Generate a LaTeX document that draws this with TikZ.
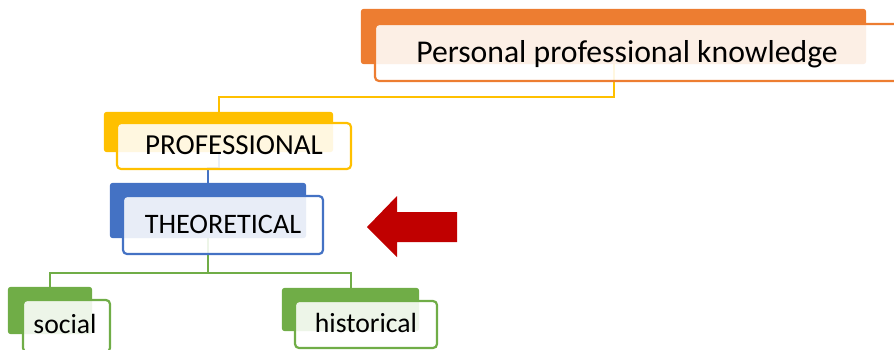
\documentclass[tikz,border=0pt]{standalone}
\usepackage{fontspec}
\setmainfont{Carlito}
\begin{document}
\begin{tikzpicture}[x=1pt,y=-1pt,
  backbox/.style={draw=none,inner sep=0pt},
  plate/.style={fill=#1,rounded corners=3pt},
  frontbox/.style={draw=#1,line width=2.2pt,fill=white,fill opacity=0.88,rounded corners=4pt,inner sep=0pt},
  link/.style={draw=#1,line width=2pt},
  lbl/.style={anchor=base,inner sep=0pt,text=black},
]
\definecolor{ppkorange}{HTML}{ED7D31}
\definecolor{profyellow}{HTML}{FFC000}
\definecolor{theoblue}{HTML}{4472C4}
\definecolor{leafgreen}{HTML}{70AD47}
\definecolor{arrowred}{HTML}{C00000}
\useasboundingbox (0,0) rectangle (894,349);

% back plate outlines (filled after the connectors)
\node[backbox,minimum width=505pt,minimum height=55pt] (ppkB) at (613.5,36.5) {};
\node[backbox,minimum width=229pt,minimum height=40pt] (profB) at (218.5,132) {};
\node[backbox,minimum width=196pt,minimum height=55pt] (theoB) at (208,210.5) {};
\node[backbox,minimum width=84pt,minimum height=47pt] (socB) at (50,310.5) {};
\node[backbox,minimum width=137pt,minimum height=43pt] (hisB) at (350.5,309.5) {};

% connector elbows
\coordinate (j1) at (613.5,97);
\coordinate (j2) at (218.5,168);
\coordinate (j3) at (208,273);

% connectors run from plate centre to plate centre
\draw[link=profyellow] (ppkB.center) -- (j1) -| (profB.center);
\draw[link=theoblue] (profB.center) -- (j2) -| (theoB.center);
\draw[link=leafgreen] (theoB.center) -- (j3) -| (socB.center);
\draw[link=leafgreen] (j3) -| (hisB.center);

% coloured plates
\fill[plate=ppkorange] (ppkB.north west) rectangle (ppkB.south east);
\fill[plate=profyellow] (profB.north west) rectangle (profB.south east);
\fill[plate=theoblue] (theoB.north west) rectangle (theoB.south east);
\fill[plate=leafgreen] (socB.north west) rectangle (socB.south east);
\fill[plate=leafgreen] (hisB.north west) rectangle (hisB.south east);

% front cards
\node[frontbox=ppkorange,minimum width=525pt,minimum height=57pt] (ppkF) at (637.5,52.5) {};
\node[frontbox=profyellow,minimum width=234pt,minimum height=46pt] (profF) at (234,146) {};
\node[frontbox=theoblue,minimum width=200pt,minimum height=58pt] (theoF) at (223,225) {};
\node[frontbox=leafgreen,minimum width=87pt,minimum height=52pt] (socF) at (66.5,326) {};
\node[frontbox=leafgreen,minimum width=142pt,minimum height=47pt] (hisF) at (366,324.5) {};

% labels
\node[lbl,font=\fontsize{31.7}{36}\selectfont] (ppkT) at (627,62) {Personal professional knowledge};
\node[lbl,font=\fontsize{29}{34}\selectfont] (profT) at (234,154) {PROFESSIONAL};
\node[lbl,font=\fontsize{28.2}{33}\selectfont] (theoT) at (223,233) {THEORETICAL};
\node[lbl,font=\fontsize{27.7}{32}\selectfont] (socT) at (65,333) {social};
\node[lbl,font=\fontsize{27.7}{32}\selectfont] (hisT) at (366,332) {historical};

% pointer arrow
\coordinate (arT) at (367,227);
\fill[arrowred] (arT) -- (397,196) -- (397,212) -- (457,212) -- (457,242) -- (397,242) -- (397,257) -- cycle;
\end{tikzpicture}
\end{document}
